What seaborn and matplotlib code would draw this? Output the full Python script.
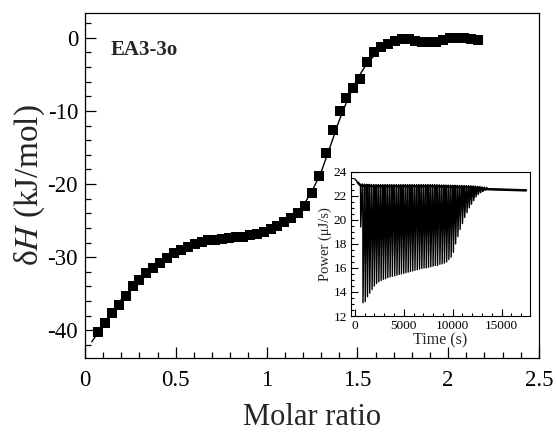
import numpy as np
import pandas as pd
import matplotlib
matplotlib.use("Agg")
import matplotlib.pyplot as plt
import seaborn as sns
from matplotlib.ticker import MultipleLocator

# ---------------- data ----------------
molar_ratio = [0.072, 0.110, 0.148, 0.186, 0.224, 0.262, 0.300, 0.338, 0.376, 0.414,
               0.452, 0.490, 0.528, 0.566, 0.604, 0.642, 0.680, 0.718, 0.756, 0.794,
               0.832, 0.870, 0.908, 0.946, 0.984, 1.022, 1.060, 1.098, 1.136, 1.174,
               1.212, 1.250, 1.288, 1.326, 1.364, 1.402, 1.440, 1.478, 1.516, 1.554,
               1.592, 1.630, 1.668, 1.706, 1.744, 1.782, 1.820, 1.858, 1.896, 1.934,
               1.972, 2.010, 2.048, 2.086, 2.124, 2.162]
delta_h = [-40.3, -39.0, -37.7, -36.5, -35.3, -34.0, -33.1, -32.2, -31.5, -30.8,
           -30.1, -29.5, -29.0, -28.6, -28.2, -27.9, -27.7, -27.6, -27.5, -27.4,
           -27.3, -27.2, -27.0, -26.8, -26.6, -26.2, -25.8, -25.2, -24.6, -23.9,
           -23.0, -21.2, -18.9, -15.8, -12.6, -10.0, -8.2, -6.8, -5.6, -3.3,
           -1.9, -1.2, -0.8, -0.4, -0.1, -0.2, -0.4, -0.55, -0.6, -0.5,
           -0.3, -0.05, 0.0, -0.05, -0.15, -0.3]

fit_x = [0.037, 0.10, 0.20, 0.30, 0.40, 0.50, 0.60, 0.70, 0.80, 0.90, 1.00, 1.05,
         1.10, 1.15, 1.20, 1.25, 1.30, 1.35, 1.40, 1.45, 1.50, 1.55, 1.60, 1.65,
         1.70, 1.80, 1.90, 2.00, 2.16]
fit_y = [-41.6, -39.3, -35.8, -33.1, -31.0, -29.4, -28.3, -27.7, -27.4, -27.1, -26.6, -26.1,
         -25.3, -24.3, -23.0, -21.0, -18.4, -14.9, -11.3, -8.2, -5.6, -3.6, -2.2, -1.3,
         -0.8, -0.4, -0.3, -0.3, -0.3]

# inset: raw ITC power trace
inj_time = [580, 810, 1040, 1270, 1500, 1740, 1970, 2200, 2430, 2660,
            2890, 3120, 3350, 3580, 3810, 4050, 4280, 4510, 4740, 4970,
            5200, 5430, 5660, 5890, 6120, 6360, 6590, 6820, 7050, 7280,
            7510, 7740, 7970, 8200, 8430, 8670, 8900, 9130, 9360, 9590,
            9820, 10050, 10280, 10510, 10740, 10980, 11210, 11440, 11670, 11900,
            12130, 12360, 12590, 12820, 13050, 13290]
peak_power = [19.4, 13.1, 13.2, 13.6, 13.9, 14.2, 14.5, 14.7, 14.85, 14.95,
              15.05, 15.1, 15.2, 15.25, 15.3, 15.35, 15.4, 15.45, 15.5, 15.55,
              15.6, 15.65, 15.7, 15.75, 15.8, 15.85, 15.9, 15.95, 16.0, 16.0,
              16.05, 16.1, 16.15, 16.2, 16.2, 16.3, 16.35, 16.4, 16.5, 16.7,
              16.9, 17.3, 18.0, 18.6, 19.2, 19.7, 20.2, 20.6, 21.0, 21.3,
              21.6, 21.9, 22.1, 22.25, 22.35, 22.45]
base_time = [0, 300, 600, 2000, 8000, 12000, 13500, 17500]
base_power = [23.4, 23.1, 22.85, 22.8, 22.8, 22.7, 22.55, 22.45]

# ---------------- style ----------------
sns.set_theme(style="ticks")
plt.rcParams["font.family"] = ["Liberation Serif", "DejaVu Serif"]
plt.rcParams["mathtext.fontset"] = "stix"
plt.rcParams["axes.unicode_minus"] = False

fig = plt.figure(figsize=(5.57, 4.32), dpi=100)
ax = fig.add_axes([0.1526, 0.1713, 0.815, 0.7986])

df = pd.DataFrame({"x": molar_ratio, "y": delta_h})
fit = pd.DataFrame({"x": fit_x, "y": fit_y})
sns.lineplot(data=fit, x="x", y="y", ax=ax, color="black", lw=1.0, sort=False,
             estimator=None, zorder=2)
sns.scatterplot(data=df, x="x", y="y", ax=ax, marker="s", s=52, color="black",
                edgecolor="none", linewidth=0, zorder=3)

ax.set_xlim(0, 2.5)
ax.set_ylim(-43.8, 3.4)
ax.xaxis.set_major_locator(MultipleLocator(0.5))
ax.xaxis.set_minor_locator(MultipleLocator(0.1))
ax.yaxis.set_major_locator(MultipleLocator(10))
ax.yaxis.set_minor_locator(MultipleLocator(2))
ax.set_xticks([0, 0.5, 1, 1.5, 2, 2.5])
ax.set_xticklabels(["0", "0.5", "1", "1.5", "2", "2.5"])
ax.tick_params(which="both", direction="in", top=False, right=False, width=0.9,
               colors="black", labelsize=16.5)
ax.tick_params(which="major", length=8)
ax.tick_params(which="minor", length=4.5)
ax.tick_params(axis="x", pad=9)
ax.tick_params(axis="y", pad=5)
for s in ax.spines.values():
    s.set_linewidth(0.9)
    s.set_color("black")
ax.set_xlabel("Molar ratio", fontsize=22, labelpad=8)
ax.set_ylabel(r"δ$H$ (kJ/mol)", fontsize=24, labelpad=0)
ax.text(0.057, 0.893, "EA3-3o", transform=ax.transAxes, fontsize=15,
        fontweight="bold", ha="left", va="center")

# ---------------- inset ----------------
ins = fig.add_axes([0.630, 0.2685, 0.3214, 0.334])
tr_t, tr_p = [], []
bt = np.array(base_time, float)
bp = np.array(base_power, float)
tr_t += [0.0]
tr_p += [base_power[0]]
for t, pk in zip(inj_time, peak_power):
    b = float(np.interp(t, bt, bp))
    tr_t += [t, t + 25, t + 190]
    tr_p += [b, pk, b + 0.12]
tr_t += [13600, 17500]
tr_p += list(np.interp([13600, 17500], bt, bp))
trace = pd.DataFrame({"t": tr_t, "p": tr_p})
sns.lineplot(data=trace, x="t", y="p", ax=ins, color="black", lw=1.0, sort=False,
             estimator=None)
sns.lineplot(x=base_time[1:], y=base_power[1:], ax=ins, color="black", lw=1.8,
             sort=False, estimator=None)

ins.set_xlim(-400, 17900)
ins.set_ylim(12, 24)
ins.xaxis.set_major_locator(MultipleLocator(5000))
ins.xaxis.set_minor_locator(MultipleLocator(1000))
ins.yaxis.set_major_locator(MultipleLocator(2))
ins.yaxis.set_minor_locator(MultipleLocator(0.5))
ins.tick_params(which="both", direction="in", top=False, right=False, width=0.8,
                colors="black", labelsize=9.5, pad=3)
ins.tick_params(which="major", length=5)
ins.tick_params(which="minor", length=2.5)
for s in ins.spines.values():
    s.set_linewidth(0.8)
    s.set_color("black")
ins.set_xlabel("Time (s)", fontsize=11.5, labelpad=0)
ins.set_ylabel("Power (μJ/s)", fontsize=10.5, labelpad=1)

fig.savefig("out.png", dpi=100)
